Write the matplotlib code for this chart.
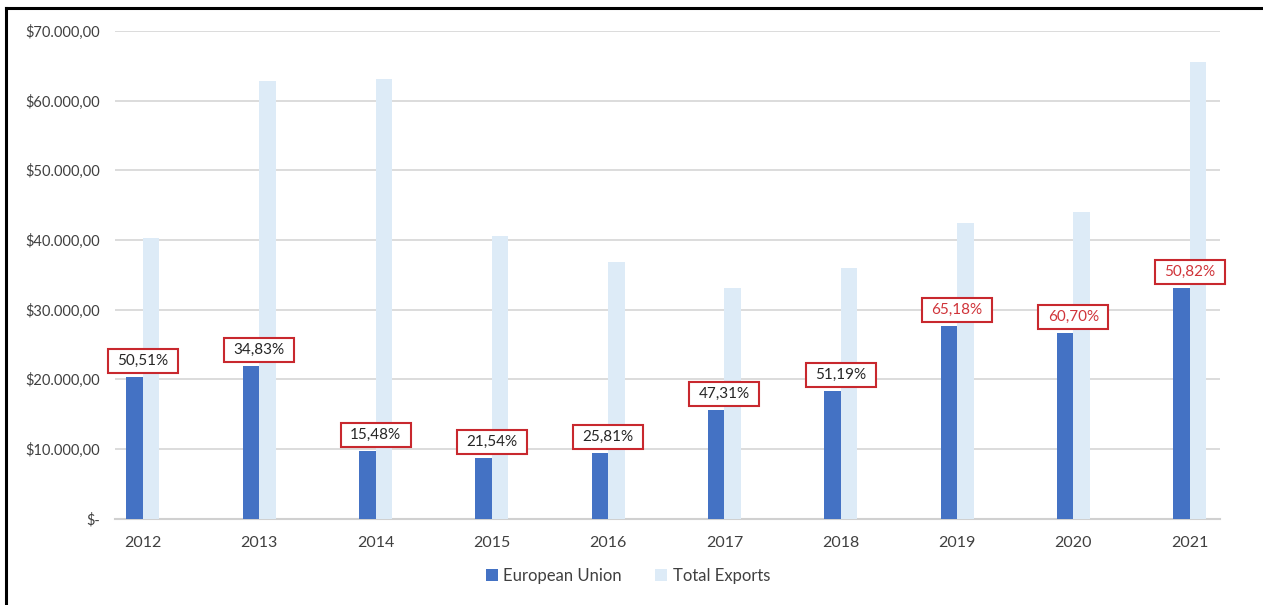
import matplotlib
matplotlib.use("Agg")
import matplotlib.pyplot as plt
from matplotlib.patches import Rectangle
from matplotlib.lines import Line2D
from matplotlib.transforms import Affine2D, ScaledTranslation
from matplotlib.ticker import FixedLocator

years = ["2012", "2013", "2014", "2015", "2016", "2017", "2018", "2019", "2020", "2021"]
eu_values = [20330, 21910, 9740, 8650, 9370, 15630, 18360, 27660, 26650, 33160]
total_values = [40260, 62860, 63150, 40630, 36810, 33070, 35950, 42460, 44040, 65550]
share_labels = ["50,51%", "34,83%", "15,48%", "21,54%", "25,81%", "47,31%", "51,19%", "65,18%", "60,70%", "50,82%"]
label_red_text = [False, False, False, False, False, False, False, True, True, True]
y_ticks = [0, 10000, 20000, 30000, 40000, 50000, 60000, 70000]
y_tick_labels = ["$-", "$10.000,00", "$20.000,00", "$30.000,00", "$40.000,00",
                 "$50.000,00", "$60.000,00", "$70.000,00"]

plt.rcParams['font.family'] = ['Lato', 'DejaVu Sans']

DPI = 100
fig = plt.figure(figsize=(12.63, 6.05), dpi=DPI)
ax = fig.add_axes([115 / 1263, 1 - 518.5 / 605, (1220 - 115) / 1263, (518.5 - 31) / 605])

EU_COLOR = "#4472C4"
TOT_COLOR = "#DDEBF7"
GRID = "#D9D9D9"
BOX_RED = "#C8282E"

x = list(range(len(years)))
w = 0.142
ax.bar([i - w / 2 for i in x], eu_values, width=w, color=EU_COLOR, label="European Union", zorder=3)
ax.bar([i + w / 2 for i in x], total_values, width=w, color=TOT_COLOR, label="Total Exports", zorder=3)

ax.set_xlim(-0.24, 9.26)
ax.set_ylim(0, 70000)
ax.yaxis.set_major_locator(FixedLocator(y_ticks))
ax.set_yticklabels(y_tick_labels)
ax.set_xticks(x)
ax.set_xticklabels(years)
ax.tick_params(axis='both', length=0, colors="#404040")
ax.tick_params(axis='y', pad=11, labelsize=10.5)
ax.tick_params(axis='x', pad=12.5, labelsize=11.5)
for lab in ax.get_xticklabels() + ax.get_yticklabels():
    lab.set_color("#404040")

ax.grid(axis='y', color=GRID, linewidth=1.3, zorder=0)
for s in ["top", "right", "left"]:
    ax.spines[s].set_visible(False)
ax.spines["bottom"].set_color("#D0D0D0")
ax.spines["bottom"].set_linewidth(1.5)

# labels in red boxes
BW, BH, GAP = 70, 24, 4
for i, (v, lab, red) in enumerate(zip(eu_values, share_labels, label_red_text)):
    trans = Affine2D().translate(-BW / 2, GAP) + ScaledTranslation(i, v, ax.transData)
    rect = Rectangle((0, 0), BW, BH, transform=trans, facecolor="white",
                     edgecolor=BOX_RED, linewidth=1.5, zorder=5, clip_on=False)
    ax.add_patch(rect)
    ax.annotate(lab, xy=(i, v), xytext=(0, GAP + BH / 2), textcoords='offset pixels',
                ha='center', va='center', fontsize=11,
                color=("#D0343A" if red else "#262626"), zorder=6)

fig.legend(loc='center', bbox_to_anchor=(628 / 1263, 1 - 576 / 605), ncol=2, frameon=False,
           handlelength=0.7, handleheight=0.7, handletextpad=0.35, columnspacing=2.0,
           fontsize=12, labelcolor="#404040")

# figure border (left and top only)
fig.lines.append(Line2D([6 / 1263, 6 / 1263], [-0.01, 1 - 7.5 / 605], transform=fig.transFigure,
                        color="black", linewidth=2.2, solid_capstyle='projecting'))
fig.lines.append(Line2D([6 / 1263, 1.01], [1 - 7.5 / 605, 1 - 7.5 / 605], transform=fig.transFigure,
                        color="black", linewidth=2.2, solid_capstyle='projecting'))

fig.savefig("out.png", dpi=DPI)
